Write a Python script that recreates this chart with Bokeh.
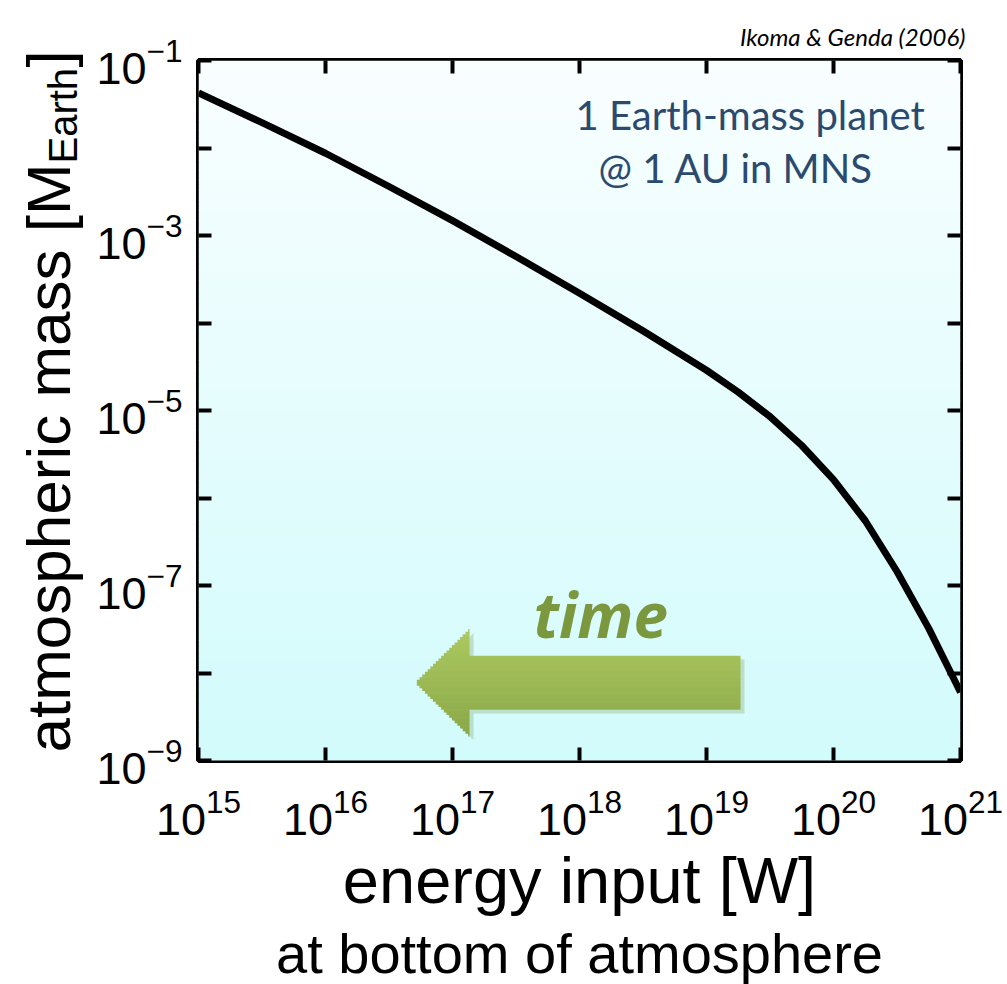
from bokeh.plotting import figure
from bokeh.layouts import row, column
from bokeh.models import (FixedTicker, LogAxis, Range1d, LinearScale, Title,
                          CustomJSTickFormatter, ColumnDataSource)
from bokeh.core.properties import value
from bokeh.embed import file_html
from bokeh.resources import INLINE

# Atmospheric mass vs. energy input (log10 values)
energy_log10 = [15.0, 15.5, 16.0, 16.5, 17.0, 17.5, 18.0, 18.5, 19.0, 19.25,
                19.5, 19.75, 20.0, 20.25, 20.5, 20.75, 21.0]
mass_log10 = [-1.37, -1.71, -2.06, -2.44, -2.83, -3.24, -3.66, -4.09, -4.54,
              -4.79, -5.07, -5.40, -5.79, -6.26, -6.84, -7.49, -8.22]

x_ticks = [1e15, 1e16, 1e17, 1e18, 1e19, 1e20, 1e21]
y_label_ticks = [1e-9, 1e-7, 1e-5, 1e-3, 1e-1]
y_minor_ticks = [1e-8, 1e-6, 1e-4, 1e-2]
y_all_ticks = sorted(y_label_ticks + y_minor_ticks)

HELV = "Liberation Sans"
W, H = 1007, 984
# frame placement in page pixels
FL, FR, FT, FB = 198, 960, 60, 760
LEFT_W = 92           # strip holding the y title
MAIN_W = W - LEFT_W

BASE_SHIFT = 0.38     # baseline correction for text glyphs, in em


def put_text(fig, X, Y, s, size, font, color="black", style="normal",
             angle=0.0, **kw):
    """Draw left-aligned text with its baseline at page pixel (X, Y)."""
    if angle:
        X -= BASE_SHIFT * size
    else:
        Y -= BASE_SHIFT * size
    fig.text(x=[X], y=[Y], text=[s], angle=angle, text_font=value(font),
             text_font_size=value(f"{size}px"), text_font_style=style,
             text_color=color, text_align="left", text_baseline="alphabetic", **kw)


# ---- main plot --------------------------------------------------------------
p = figure(width=MAIN_W, height=H, x_axis_type="log", y_axis_type="log",
           x_range=(1e15, 1e21), y_range=(1e-9, 1e-1),
           output_backend="svg", toolbar_location=None,
           min_border_left=FL - LEFT_W, min_border_right=W - FR,
           min_border_top=FT, min_border_bottom=H - FB)
p.background_fill_color = "#eafdfe"
p.border_fill_color = "white"
p.outline_line_color = "black"
p.outline_line_width = 5
p.grid.visible = False

# citation above the frame, right aligned
p.title.text = "Ikoma & Genda (2006)"
p.title.align = "right"
p.title.offset = -5
p.title.standoff = 19
p.title.text_font = "Lato"
p.title.text_font_style = "italic"
p.title.text_font_size = "24px"
p.title.text_color = "black"

# page-pixel helper ranges for decorations inside the frame
p.extra_x_ranges = {"px": Range1d(FL, FR)}
p.extra_y_ranges = {"py": Range1d(FB, FT)}
p.extra_x_scales = {"px": LinearScale()}
p.extra_y_scales = {"py": LinearScale()}
PX = dict(x_range_name="px", y_range_name="py")

# vertical background gradient: near white at top, light cyan at bottom
n = 70
top_rgb = (249, 254, 255)
bot_rgb = (210, 251, 252)
tops, bots, cols = [], [], []
for i in range(n):
    f = (i + 0.5) / n
    c = tuple(int(round(top_rgb[k] + (bot_rgb[k] - top_rgb[k]) * f)) for k in range(3))
    tops.append(FT + (FB - FT) * i / n)
    bots.append(FT + (FB - FT) * (i + 1) / n + 0.6)
    cols.append("#%02x%02x%02x" % c)
p.quad(left=FL, right=FR, top=tops, bottom=bots, fill_color=cols, line_color=None, **PX)

# "time" arrow pointing left, lighter at top and darker at bottom
tip_x, head_x, tail_x = 415, 469, 740
mid_y, head_half, shaft_half = 682, 53.5, 27
outline_x = [tip_x, head_x, head_x, tail_x, tail_x, head_x, head_x]
outline_y = [mid_y, mid_y - head_half, mid_y - shaft_half, mid_y - shaft_half,
             mid_y + shaft_half, mid_y + shaft_half, mid_y + head_half]
p.patch([v + 4 for v in outline_x], [v + 4 for v in outline_y],
        fill_color="#6d8a35", fill_alpha=0.25, line_color=None, **PX)
strips = 40
sl, sr, st, sb, sc = [], [], [], [], []
light, dark = (172, 201, 96), (138, 168, 72)
for i in range(strips):
    ya_ = mid_y - head_half + 2 * head_half * i / strips
    yb_ = mid_y - head_half + 2 * head_half * (i + 1) / strips
    d = abs(0.5 * (ya_ + yb_) - mid_y)
    f = i / (strips - 1)
    c = tuple(int(round(light[k] + (dark[k] - light[k]) * f)) for k in range(3))
    sl.append(tip_x + (head_x - tip_x) * d / head_half)
    sr.append(tail_x if d <= shaft_half else head_x)
    st.append(ya_)
    sb.append(yb_ + 0.5)
    sc.append("#%02x%02x%02x" % c)
p.quad(left=sl, right=sr, top=st, bottom=sb, fill_color=sc, line_color=None, **PX)

# curve
src = ColumnDataSource(dict(x=[10 ** v for v in energy_log10],
                            y=[10 ** v for v in mass_log10]))
p.line("x", "y", source=src, line_width=7, line_color="black", line_join="round")

# axes: labelled bottom/left, tick-only top/right, all ticks pointing inward
xa = p.xaxis[0]
xa.ticker = FixedTicker(ticks=x_ticks, minor_ticks=[])
ya = p.yaxis[0]
ya.ticker = FixedTicker(ticks=y_label_ticks, minor_ticks=y_minor_ticks)
top_ax = LogAxis(ticker=FixedTicker(ticks=x_ticks, minor_ticks=[]),
                 formatter=CustomJSTickFormatter(code="return ''"))
right_ax = LogAxis(ticker=FixedTicker(ticks=y_all_ticks, minor_ticks=[]),
                   formatter=CustomJSTickFormatter(code="return ''"))
p.add_layout(top_ax, "above")
p.add_layout(right_ax, "right")

for a in (xa, ya, top_ax, right_ax):
    a.axis_line_color = None
    a.major_tick_in = 13
    a.major_tick_out = 0
    a.major_tick_line_width = 4
    a.major_tick_line_color = "black"
    a.minor_tick_in = 13
    a.minor_tick_out = 0
    a.minor_tick_line_width = 4
    a.minor_tick_line_color = "black"
    a.major_label_text_font = HELV
    a.major_label_text_font_size = "45px"
    a.major_label_text_color = "black"

xa.major_label_standoff = 28
ya.major_label_standoff = 16
for a in (top_ax, right_ax):
    a.major_label_text_font_size = "1px"
    a.major_label_standoff = 0

# x title and its second line
xa.axis_label = "energy input [W]"
xa.axis_label_text_font = HELV
xa.axis_label_text_font_size = "65px"
xa.axis_label_text_font_style = "normal"
xa.axis_label_text_color = "black"
xa.axis_label_standoff = 6
p.add_layout(Title(text="at bottom of atmosphere", align="center", standoff=0,
                   text_font=HELV, text_font_size="56px", text_font_style="normal",
                   text_color="black"), "below")

put_text(p, 575, 130, "1 Earth-mass planet", 40, "Lato", color="#2b4a6e", **PX)
put_text(p, 598, 183, "@ 1 AU in MNS", 40, "Lato", color="#2b4a6e", **PX)
put_text(p, 533, 637, "time", 62, "Open Sans", color="#7b983f", style="bold italic", **PX)

# ---- y title strip -----------------------------------------------------------
left = figure(width=LEFT_W, height=H, x_range=Range1d(0, LEFT_W), y_range=Range1d(H, 0),
              output_backend="svg", toolbar_location=None, min_border=0,
              x_axis_location=None, y_axis_location=None)
left.grid.visible = False
left.outline_line_color = None
left.background_fill_color = "white"
left.border_fill_color = "white"

main_size, sub_size = 62, 40
put_text(left, 72, 752, "atmospheric mass [M", main_size, HELV, angle=1.5708)
put_text(left, 78, 752 - 589, "Earth", sub_size, HELV, angle=1.5708)
put_text(left, 72, 752 - 589 - 96, "]", main_size, HELV, angle=1.5708)

# the main plot sits in its own column so the strip keeps its full-height frame
layout = row(left, column(p, spacing=0), spacing=0)
open("out.html", "w").write(file_html(layout, INLINE))
